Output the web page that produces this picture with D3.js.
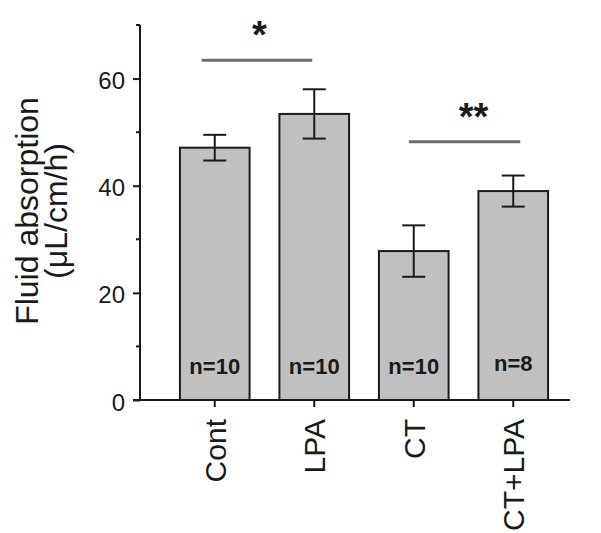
<!DOCTYPE html>
<html>
<head>
<meta charset="utf-8">
<script src="https://cdn.jsdelivr.net/npm/d3@7"></script>
<style>
  body { margin: 0; background: #fff; }
  svg { display: block; font-family: "Liberation Sans", Arial, sans-serif; }
</style>
</head>
<body>
<div id="area"></div>
<script>
var categories = ["Cont", "LPA", "CT", "CT+LPA"];
var means = [47.1, 53.4, 27.8, 39.0];
var errors = [2.4, 4.6, 4.8, 2.9];
var nLabels = ["n=10", "n=10", "n=10", "n=8"];
var majorTicks = [0, 20, 40, 60];
var minorTicks = [10, 30, 50, 70];
var sigPairs = [["Cont", "LPA", "*", 63.4], ["CT", "CT+LPA", "**", 48.2]];

var width = 601, height = 533;
var ink = "#1a1a1a";

var svg = d3.select("#area")
  .append("svg")
  .attr("width", width)
  .attr("height", height);

var x = d3.scaleBand()
  .domain(categories)
  .range([165, 563])
  .paddingInner(0.3)
  .paddingOuter(0.15);

var y = d3.scaleLinear()
  .domain([0, 70])
  .range([400, 25]);

// bars
var bars = svg.selectAll(".bar")
  .data(categories)
  .enter()
  .append("g")
  .attr("class", "bar");

bars.append("rect")
  .attr("x", function (d) { return x(d); })
  .attr("y", function (d, i) { return y(means[i]); })
  .attr("width", x.bandwidth())
  .attr("height", function (d, i) { return y(0) - y(means[i]); })
  .attr("fill", "#c0c0c0")
  .attr("stroke", ink)
  .attr("stroke-width", 2);

// error bars
var capW = 11.5;
bars.append("line")
  .attr("x1", function (d) { return x(d) + x.bandwidth() / 2; })
  .attr("x2", function (d) { return x(d) + x.bandwidth() / 2; })
  .attr("y1", function (d, i) { return y(means[i] + errors[i]); })
  .attr("y2", function (d, i) { return y(means[i] - errors[i]); })
  .attr("stroke", ink).attr("stroke-width", 2);
bars.append("line")
  .attr("x1", function (d) { return x(d) + x.bandwidth() / 2 - capW; })
  .attr("x2", function (d) { return x(d) + x.bandwidth() / 2 + capW; })
  .attr("y1", function (d, i) { return y(means[i] + errors[i]); })
  .attr("y2", function (d, i) { return y(means[i] + errors[i]); })
  .attr("stroke", ink).attr("stroke-width", 2);
bars.append("line")
  .attr("x1", function (d) { return x(d) + x.bandwidth() / 2 - capW; })
  .attr("x2", function (d) { return x(d) + x.bandwidth() / 2 + capW; })
  .attr("y1", function (d, i) { return y(means[i] - errors[i]); })
  .attr("y2", function (d, i) { return y(means[i] - errors[i]); })
  .attr("stroke", ink).attr("stroke-width", 2);

// n labels
bars.append("text")
  .attr("x", function (d) { return x(d) + x.bandwidth() / 2; })
  .attr("y", function (d, i) { return i === 3 ? 371 : 374; })
  .attr("text-anchor", "middle")
  .attr("font-size", 22)
  .attr("font-weight", "bold")
  .attr("fill", ink)
  .text(function (d, i) { return nLabels[i]; });

// y axis
var yAxis = svg.append("g")
  .attr("transform", "translate(140,0)")
  .call(d3.axisLeft(y).tickValues(majorTicks).tickSize(7).tickPadding(8).tickSizeOuter(0));
yAxis.select(".domain").remove();
yAxis.selectAll("line").attr("stroke", ink).attr("stroke-width", 2);
yAxis.selectAll("text").attr("font-size", 24).attr("fill", ink)
  .attr("font-family", "Liberation Sans, Arial, sans-serif").attr("dy", "0.42em");

svg.append("g")
  .attr("transform", "translate(140,0)")
  .selectAll("line")
  .data(minorTicks)
  .enter()
  .append("line")
  .attr("x1", -4).attr("x2", 0)
  .attr("y1", function (d) { return y(d); })
  .attr("y2", function (d) { return y(d); })
  .attr("stroke", ink).attr("stroke-width", 2);

svg.append("line")
  .attr("x1", 140).attr("x2", 140)
  .attr("y1", y(70)).attr("y2", y(0))
  .attr("stroke", ink).attr("stroke-width", 2);

// x axis
var xAxis = svg.append("g")
  .attr("transform", "translate(0,400)")
  .call(d3.axisBottom(x).tickSize(7).tickSizeOuter(0));
xAxis.select(".domain").remove();
xAxis.selectAll("line").attr("stroke", ink).attr("stroke-width", 2);
xAxis.selectAll("text")
  .attr("font-size", 30)
  .attr("font-family", "Liberation Sans, Arial, sans-serif")
  .attr("fill", ink)
  .attr("text-anchor", "end")
  .attr("transform", "rotate(-90)")
  .attr("x", -19)
  .attr("y", 0)
  .attr("dy", "0.36em");

svg.append("line")
  .attr("x1", 133).attr("x2", 570)
  .attr("y1", y(0)).attr("y2", y(0))
  .attr("stroke", ink).attr("stroke-width", 2);

// y title
var title = svg.append("text")
  .attr("transform", "translate(0,211) rotate(-90)")
  .attr("text-anchor", "middle")
  .attr("font-size", 32)
  .attr("fill", ink);
title.append("tspan").attr("x", 0).attr("y", 38).text("Fluid absorption");
title.append("tspan").attr("x", 0).attr("y", 67).text("(\u03bcL/cm/h)");

// significance markers
var sig = svg.selectAll(".sig")
  .data(sigPairs)
  .enter()
  .append("g")
  .attr("class", "sig");

sig.append("line")
  .attr("x1", function (d, i) { return x(d[0]) + x.bandwidth() / 2 - (i === 0 ? 13 : 5); })
  .attr("x2", function (d, i) { return x(d[1]) + x.bandwidth() / 2 - (i === 0 ? 2 : -7); })
  .attr("y1", function (d) { return y(d[3]); })
  .attr("y2", function (d) { return y(d[3]); })
  .attr("stroke", "#6e6e6e")
  .attr("stroke-width", 3);

sig.append("text")
  .attr("x", function (d, i) {
    return (x(d[0]) + x(d[1])) / 2 + x.bandwidth() / 2 + (i === 0 ? -5 : 10);
  })
  .attr("y", function (d) { return y(d[3]) - 12; })
  .attr("text-anchor", "middle")
  .attr("font-size", 38)
  .attr("font-weight", "bold")
  .attr("fill", ink)
  .text(function (d) { return d[2]; });
</script>
</body>
</html>
